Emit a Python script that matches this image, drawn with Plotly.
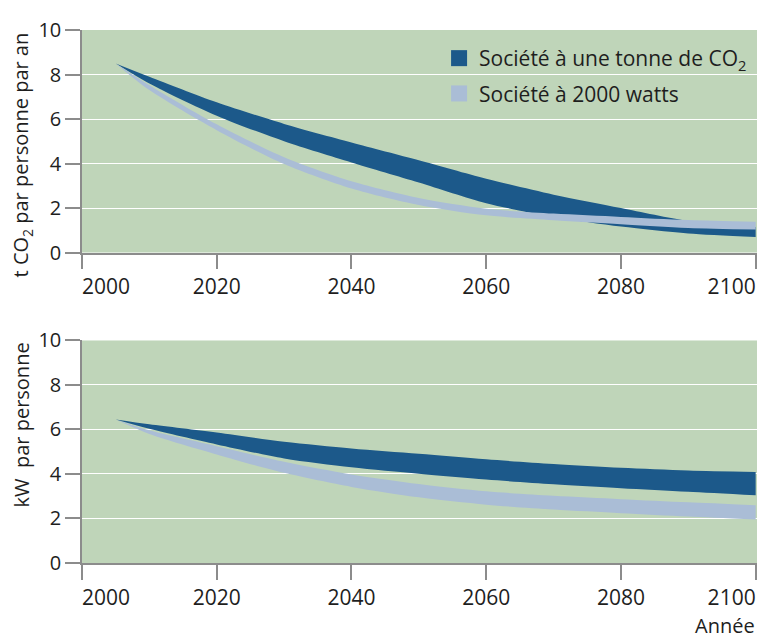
import plotly.graph_objects as go
from plotly.subplots import make_subplots

# ---- data ----
years = [2005, 2010, 2020, 2030, 2040, 2050, 2060, 2070, 2080, 2090, 2100]

# Top panel: t CO2 per person per year
co2_one_tonne_low = [8.5, 7.60, 6.15, 5.00, 4.05, 3.15, 2.22, 1.60, 1.17, 0.86, 0.70]
co2_one_tonne_high = [8.5, 7.90, 6.75, 5.78, 4.95, 4.15, 3.32, 2.60, 2.00, 1.42, 1.15]
co2_2000w_low = [8.5, 7.30, 5.50, 3.98, 2.88, 2.14, 1.67, 1.45, 1.27, 1.10, 1.03]
co2_2000w_high = [8.5, 7.52, 5.76, 4.28, 3.20, 2.45, 1.97, 1.75, 1.60, 1.46, 1.38]

# Bottom panel: kW per person
kw_one_tonne_low = [6.45, 6.03, 5.33, 4.70, 4.30, 4.01, 3.75, 3.54, 3.36, 3.20, 3.04]
kw_one_tonne_high = [6.45, 6.23, 5.86, 5.45, 5.15, 4.91, 4.66, 4.45, 4.28, 4.16, 4.09]
kw_2000w_low = [6.45, 5.80, 4.88, 4.05, 3.42, 2.95, 2.62, 2.40, 2.24, 2.09, 1.96]
kw_2000w_high = [6.45, 5.96, 5.25, 4.55, 3.98, 3.55, 3.22, 3.02, 2.87, 2.73, 2.60]

series_names = ["Société à une tonne de CO<sub>2</sub>", "Société à 2000 watts"]
x_ticks = [2000, 2020, 2040, 2060, 2080, 2100]
x_ticktext = ["\u2007\u2007\u2007\u20072000", "2020", "2040", "2060", "2080", "2100\u2007\u2007\u2007\u2007"]
y_ticks = [0, 2, 4, 6, 8, 10]
y_titles = ["t CO<sub>2</sub> par personne par an", "kW\u00a0 par personne"]
x_title = "Année"

DARK = "#1C598A"
LIGHT = "#AABDD6"
BG = "#BFD5B9"
FONT = "Open Sans"
TXT = "#1e1e1e"
AX = "#8c8c8c"

fig = make_subplots(rows=2, cols=1, vertical_spacing=0.165)


def band(low, high, color, row):
    fig.add_trace(go.Scatter(x=years, y=low, mode="lines", line=dict(width=0, shape="spline", smoothing=0.8),
                             showlegend=False, hoverinfo="skip"), row=row, col=1)
    fig.add_trace(go.Scatter(x=years, y=high, mode="lines", line=dict(width=0, shape="spline", smoothing=0.8),
                             fill="tonexty", fillcolor=color, showlegend=False, hoverinfo="skip"),
                  row=row, col=1)


# top: dark first, light on top
band(co2_one_tonne_low, co2_one_tonne_high, DARK, 1)
band(co2_2000w_low, co2_2000w_high, LIGHT, 1)
# bottom: light first, dark on top
band(kw_2000w_low, kw_2000w_high, LIGHT, 2)
band(kw_one_tonne_low, kw_one_tonne_high, DARK, 2)

# legend entries
for name, col, grp in [(series_names[0], DARK, "a"), (series_names[1], LIGHT, "b")]:
    fig.add_trace(go.Scatter(x=[None], y=[None], mode="markers", name=name, legendgroup=grp,
                             marker=dict(symbol="square", size=19, color=col)), row=1, col=1)

for r in (1, 2):
    fig.update_xaxes(range=[2000, 2100.2], tickvals=x_ticks, ticktext=x_ticktext, showgrid=False,
                     zeroline=False, showline=True, linecolor=AX, linewidth=1.5, ticks="outside",
                     ticklen=15, tickwidth=1.5, tickcolor=AX, ticklabeloverflow="allow", automargin=False,
                     tickfont=dict(family=FONT, size=21, color=TXT), layer="above traces", row=r, col=1)
    fig.update_yaxes(range=[0, 10], tickvals=y_ticks, showgrid=True, gridcolor="white", gridwidth=1.3,
                     zeroline=False, showline=True, linecolor=AX, linewidth=1.5, ticks="outside",
                     ticklen=15, tickwidth=1.5, tickcolor=AX, automargin=False,
                     tickfont=dict(family=FONT, size=20, color=TXT), layer="above traces", row=r, col=1)

fig.update_layout(
    width=757, height=637,
    margin=dict(l=82, r=0, t=30, b=74, autoexpand=False),
    paper_bgcolor="white", plot_bgcolor=BG,
    font=dict(family=FONT, size=20, color=TXT),
    showlegend=True,
    legend=dict(x=0.529, y=0.985, xanchor="left", yanchor="top", bgcolor="rgba(0,0,0,0)",
                font=dict(family=FONT, size=21, color=TXT), tracegroupgap=5),
    annotations=[
        dict(text=y_titles[0], textangle=-90, xref="paper", yref="paper", x=-0.089, y=1.0,
             xanchor="center", yanchor="top", showarrow=False, font=dict(family=FONT, size=20, color=TXT)),
        dict(text=y_titles[1], textangle=-90, xref="paper", yref="paper", x=-0.089, y=0.4184,
             xanchor="center", yanchor="top", showarrow=False, font=dict(family=FONT, size=20, color=TXT)),
        dict(text=x_title, xref="paper", yref="paper", x=1.0, y=-0.117, xanchor="right", yanchor="middle",
             showarrow=False, font=dict(family=FONT, size=20, color=TXT)),
    ],
)

fig.write_html("out.html", config={"displayModeBar": False},
               post_script="document.body.style.margin='0';document.body.style.overflow='hidden';")
